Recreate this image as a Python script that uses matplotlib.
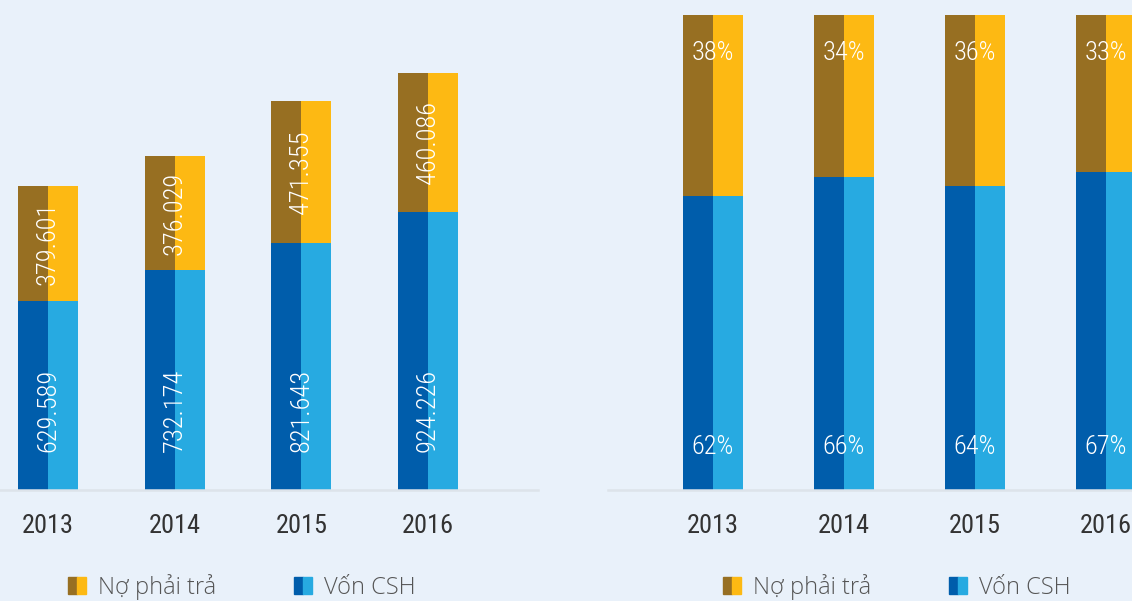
import matplotlib
matplotlib.use("Agg")
import matplotlib.pyplot as plt
from matplotlib.patches import Patch
from matplotlib.legend_handler import HandlerTuple

years = ["2013", "2014", "2015", "2016"]
no_phai_tra = [379601, 376029, 471355, 460086]
von_csh = [629589, 732174, 821643, 924226]
pct_von = [62, 66, 64, 67]
pct_no = [38, 34, 36, 33]

BG = "#e9f1fa"
BROWN, YELLOW = "#976f22", "#fdb913"
NAVY, SKY = "#005dab", "#27aae1"
NUM_FONT = ["Roboto Condensed", "DejaVu Sans"]
LEG_FONT = ["Open Sans", "Noto Sans", "DejaVu Sans"]


def fmt(v):
    return f"{v:,}".replace(",", ".")


def two_tone(ax, x, h, bottom, dark, light, w):
    ax.bar([i - w / 4 for i in x], h, width=w / 2, bottom=bottom, color=dark, linewidth=0)
    ax.bar([i + w / 4 for i in x], h, width=w / 2, bottom=bottom, color=light, linewidth=0)


def style(ax):
    ax.set_facecolor(BG)
    for s in ["top", "left", "right"]:
        ax.spines[s].set_visible(False)
    ax.spines["bottom"].set_color("#dde3ea")
    ax.spines["bottom"].set_linewidth(1.8)
    ax.set_yticks([])
    ax.tick_params(axis="x", length=0, pad=17.5, labelsize=19, labelcolor="#333333")
    for lbl in ax.get_xticklabels():
        lbl.set_family(NUM_FONT)


fig = plt.figure(figsize=(11.32, 6.01), dpi=100, facecolor=BG)
W, H = 1132, 601

# left panel: absolute values
ax1 = fig.add_axes([0 / W, (H - 490) / H, 538 / W, 490 / H])
x = list(range(len(years)))
w1 = 0.474
two_tone(ax1, x, von_csh, 0, NAVY, SKY, w1)
two_tone(ax1, x, no_phai_tra, von_csh, BROWN, YELLOW, w1)
ax1.set_xlim(-0.379, 3.868)
ax1.set_ylim(0, 1628000)
ax1.set_xticks(x, years)
style(ax1)
for i in x:
    ax1.annotate(fmt(von_csh[i]), xy=(i, 0), xytext=(0, 27), textcoords="offset points",
                 rotation=90, ha="center", va="bottom", color="white", fontsize=19,
                 family=NUM_FONT, weight=300)
    ax1.text(i, von_csh[i] + no_phai_tra[i] / 2, fmt(no_phai_tra[i]), rotation=90,
             ha="center", va="center", color="white", fontsize=19, family=NUM_FONT, weight=300)

# right panel: share in percent
ax2 = fig.add_axes([608 / W, (H - 490) / H, (W - 608) / W, 490 / H])
w2 = 0.458
two_tone(ax2, x, pct_von, 0, NAVY, SKY, w2)
two_tone(ax2, x, pct_no, pct_von, BROWN, YELLOW, w2)
ax2.set_xlim(-0.80, 3.198)
ax2.set_ylim(0, 103.2)
ax2.set_xticks(x, years)
style(ax2)
for i in x:
    ax2.annotate(f"{pct_von[i]}%", xy=(i, 0), xytext=(0, 22), textcoords="offset points",
                 ha="center", va="bottom", color="white", fontsize=19, family=NUM_FONT, weight=300)
    ax2.annotate(f"{pct_no[i]}%", xy=(i, 100), xytext=(0, -27), textcoords="offset points",
                 ha="center", va="center", color="white", fontsize=19, family=NUM_FONT, weight=300)

# legends
handles = [(Patch(color=BROWN), Patch(color=YELLOW)), (Patch(color=NAVY), Patch(color=SKY))]
labels = ["Nợ phải trả", "Vốn CSH"]
for x0 in [68, 723]:
    fig.legend(handles, labels, handler_map={tuple: HandlerTuple(ndivide=None, pad=0)},
               loc="center left", bbox_to_anchor=(x0 / W, (H - 587) / H), ncol=2, frameon=False,
               prop={"family": LEG_FONT, "size": 17, "weight": 300}, labelcolor="#555555",
               handlelength=0.76, handleheight=0.7, handletextpad=0.5, columnspacing=3.3,
               borderaxespad=0, borderpad=0)

fig.savefig("out.png", dpi=100, facecolor=BG)
